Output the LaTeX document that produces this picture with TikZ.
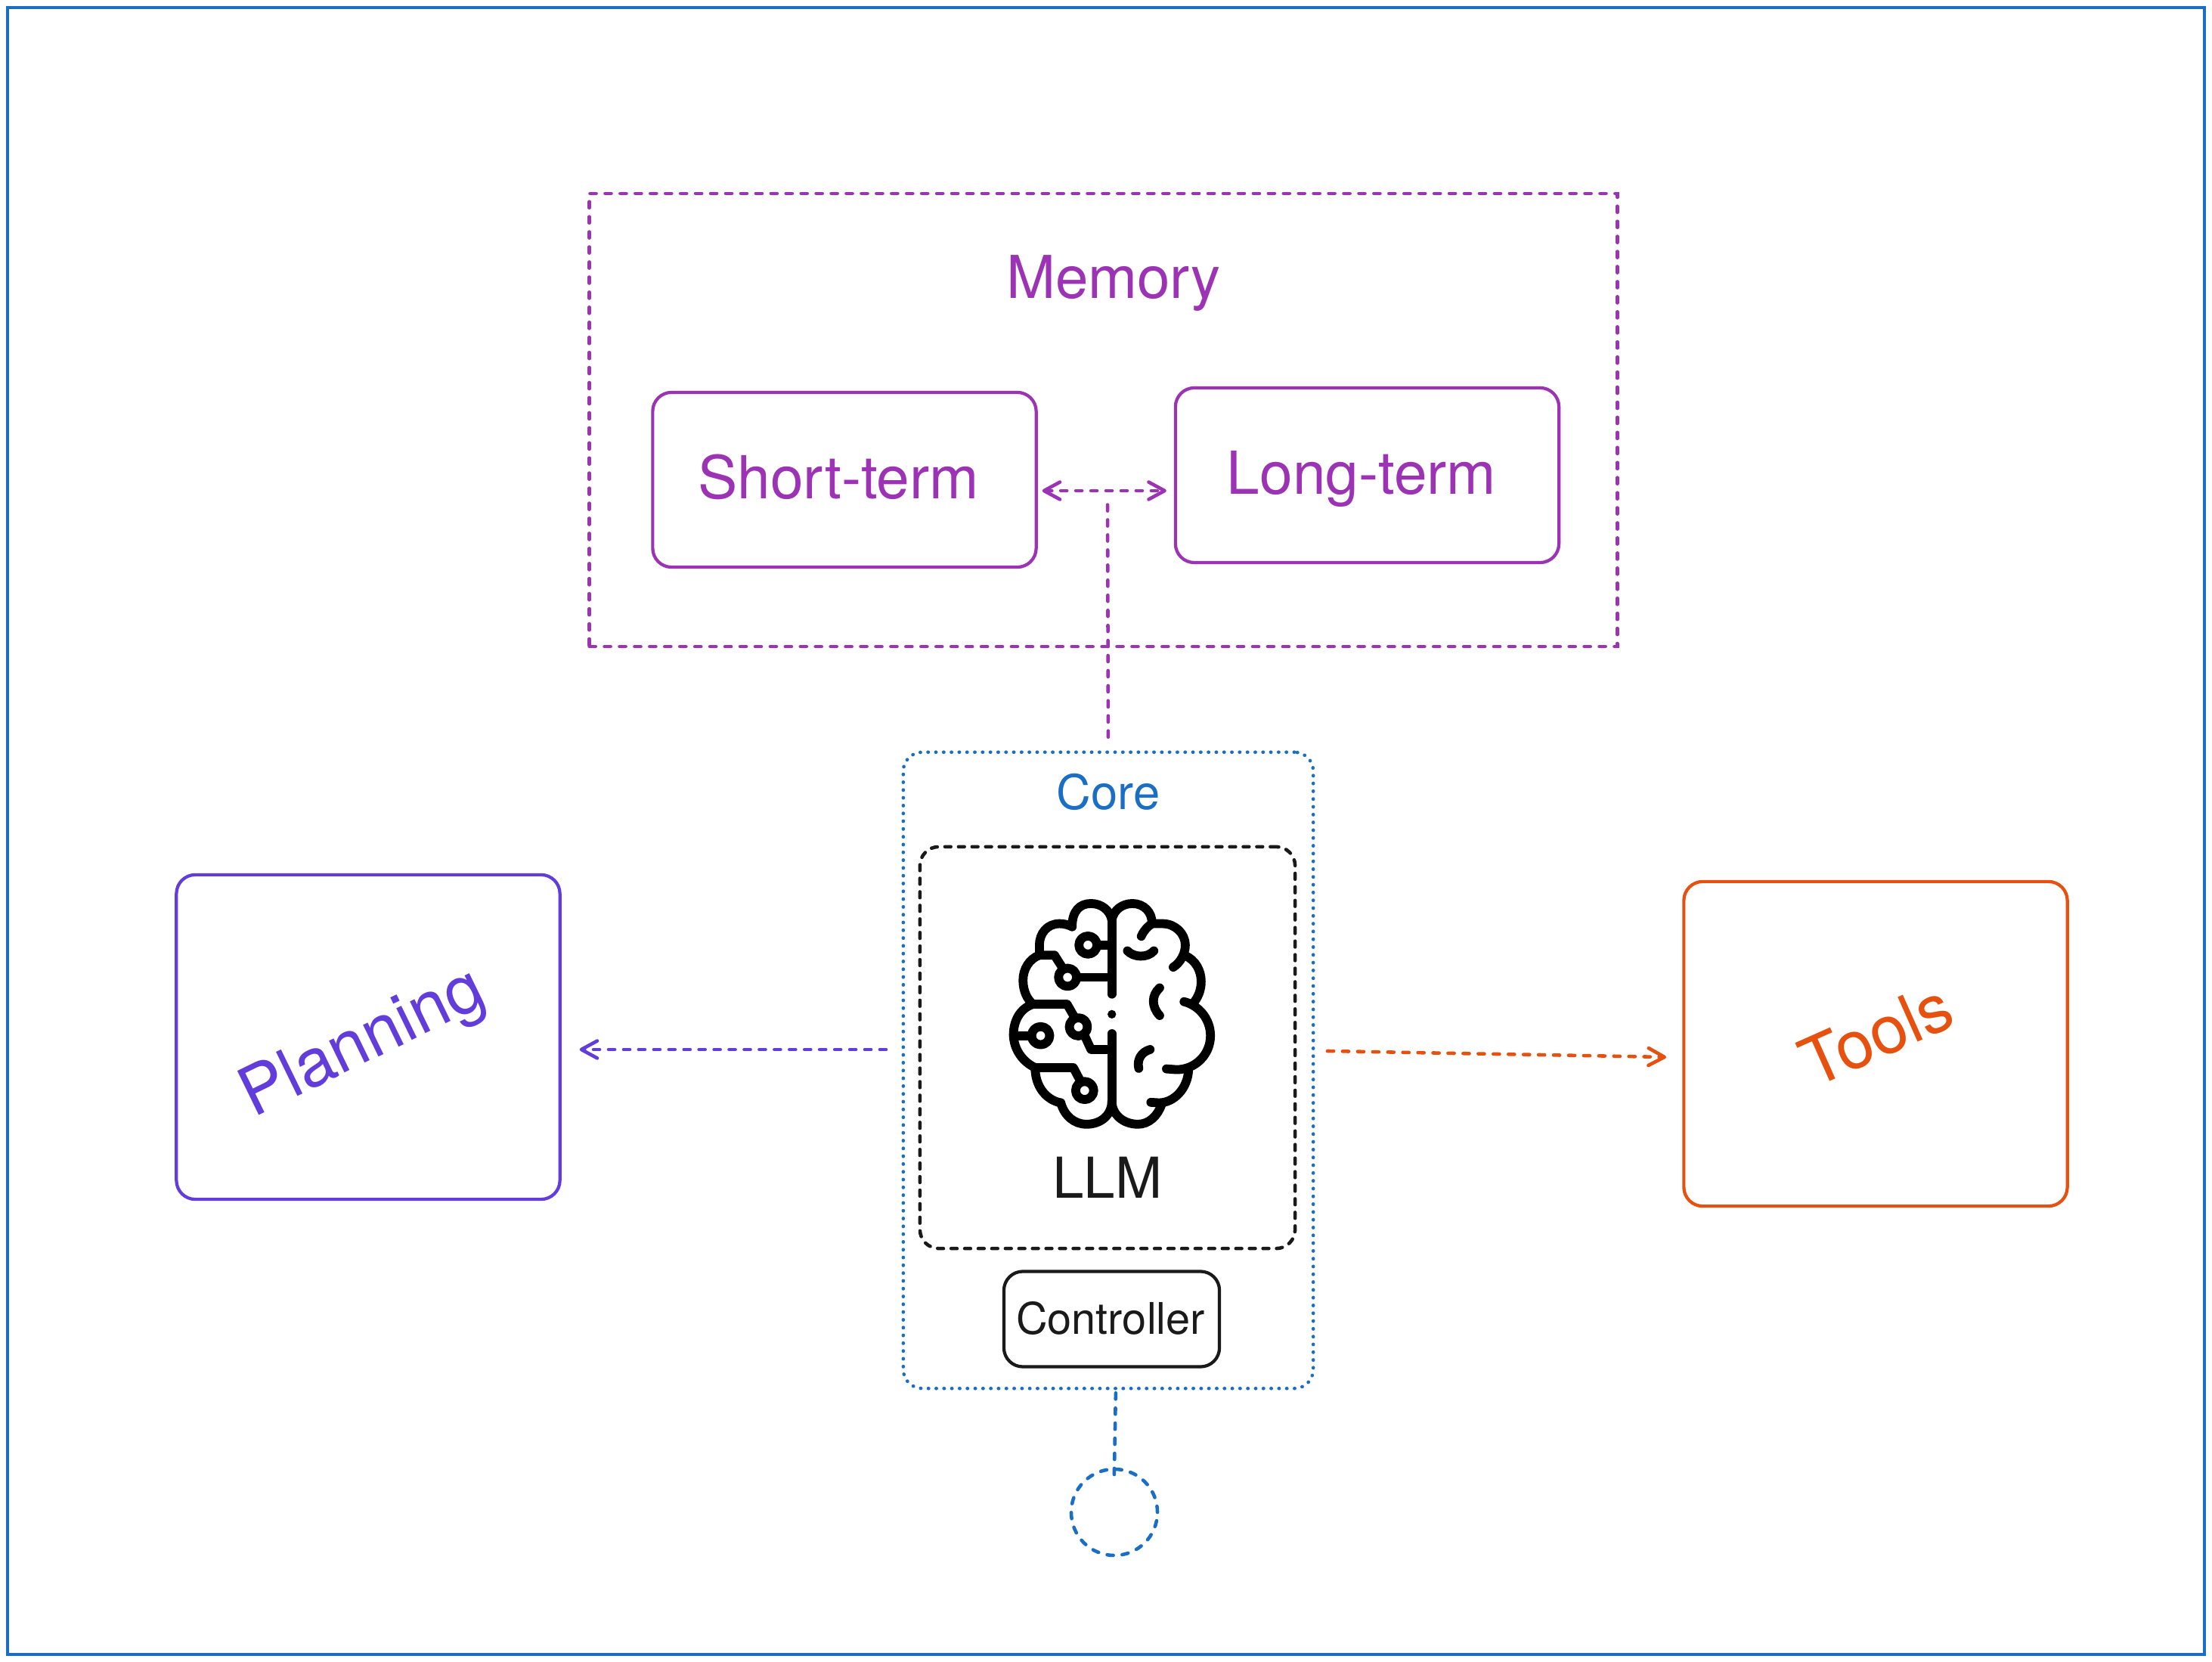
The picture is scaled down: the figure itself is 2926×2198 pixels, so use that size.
\documentclass[tikz,border=0pt]{standalone}
\usepackage{fontspec}
\setmainfont{TeX Gyre Heros}
\usetikzlibrary{arrows.meta}
\definecolor{memc}{HTML}{9C33B5}
\definecolor{corec}{HTML}{1A6FC4}
\definecolor{planc}{HTML}{633DDB}
\definecolor{toolc}{HTML}{E6510F}
\definecolor{inkc}{HTML}{1A1A1A}
\tikzset{
  box/.style={draw,rectangle,rounded corners=0.25cm,line width=1.2pt,inner sep=0pt,outer sep=0pt},
  dashline/.style={line width=1.3pt,line cap=round,dash pattern=on 2.3pt off 3.37pt},
  blackdash/.style={line width=1.3pt,line cap=round,dash pattern=on 2.2pt off 2.9pt},
  dotline/.style={line width=1.3pt,line cap=round,dash pattern=on 0.1pt off 2.83pt},
  barb/.style={-{Straight Barb[length=6pt,width=6.5pt,line width=1.3pt,round]}},
  dbarb/.style={{Straight Barb[length=6pt,width=6.5pt,line width=1.3pt,round]}-{Straight Barb[length=6pt,width=6.5pt,line width=1.3pt,round]}},
  brainline/.style={line width=3.35pt,line cap=round,line join=round,black},
}
\begin{document}
\begin{tikzpicture}[x=0.01cm,y=-0.01cm]
\useasboundingbox (0,0) rectangle (2926,2198);
\fill[white] (0,0) rectangle (2926,2198);
% frame
\node[draw=corec,line width=1.1pt,rectangle,inner sep=0pt,minimum width=29.04cm,minimum height=21.76cm] (frame) at (1463,1099) {};
% memory
\node[box,draw=memc,dashline,rounded corners=0pt,minimum width=13.59cm,minimum height=5.99cm] (memory) at (1459.5,555.5) {};
\node[text=memc,font=\fontsize{22.2}{26}\selectfont] (memlabel) at (1473,375) {Memory};
\node[box,draw=memc,minimum width=5.07cm,minimum height=2.31cm] (short) at (1117,634.5) {};
\node[text=memc,font=\fontsize{22.3}{26}\selectfont] (shortlabel) at (1109,631) {Short-term};
\node[text=memc,font=\fontsize{22.3}{26}\selectfont] (longlabel) at (1801,633) {Long-term};
\node[box,draw=memc,minimum width=5.07cm,minimum height=2.31cm] (long) at (1808.5,628.5) {};
% core
\node[box,draw=corec,dotline,minimum width=5.42cm,minimum height=8.41cm] (core) at (1466,1415.5) {};
\node[text=corec,font=\fontsize{18}{21}\selectfont] (corelabel) at (1466,1047) {Core};
\node[box,draw=inkc,blackdash,minimum width=4.96cm,minimum height=5.31cm] (llm) at (1465,1385.5) {};
\node[text=inkc,font=\fontsize{21.2}{25}\selectfont] (llmlabel) at (1465,1557) {LLM};
\node[box,draw=inkc,minimum width=2.85cm,minimum height=1.26cm] (ctrl) at (1470.5,1744.5) {};
\node[text=inkc,font=\fontsize{16.4}{20}\selectfont] (ctrllabel) at (1469,1743) {Controller};
\node[draw=corec,circle,dashline,minimum size=1.14cm,inner sep=0pt,outer sep=0pt] (user) at (1474,2000) {};
% planning, tools
\node[box,draw=planc,minimum width=5.07cm,minimum height=4.29cm] (plan) at (487,1371.5) {};
\node[text=planc,rotate=26,font=\fontsize{25.3}{30}\selectfont] (planlabel) at (481,1382) {Planning};
\node[box,draw=toolc,minimum width=5.07cm,minimum height=4.29cm] (tools) at (2481,1380.5) {};
\node[text=toolc,rotate=24,font=\fontsize{25.2}{30}\selectfont] (toollabel) at (2482,1368) {Tools};
% connectors
\coordinate (memjoin) at (1465,649);
\coordinate (planjoin) at (1172,1388);
\coordinate (tooljoinA) at (1756,1390);
\coordinate (tooljoinB) at (2204,1398);
\draw[memc,dashline,dbarb,shorten <=0.08cm,shorten >=0.12cm] (short.east |- memjoin) -- (long.west |- memjoin);
\draw[memc,dashline,shorten <=0.2cm,shorten >=0.14cm] (core.north) -- (memjoin);
\draw[planc,dashline,barb,shorten >=0.26cm] (planjoin) -- (plan.east |- planjoin);
\draw[toolc,dashline,barb] (tooljoinA) -- (tooljoinB);
\draw[corec,dashline,shorten <=0.06cm,shorten >=-0.1cm] (core.south -| user.north) ++(2,0) -- (user.north);
% brain
\begin{scope}[shift={(1300,1160)},x=0.0033333cm,y=-0.0033333cm,brainline]
 % left hemisphere
 \draw (513,170) .. controls (505,130) and (470,105) .. (430,105) .. controls (385,105) and (355,135) .. (355,197);
 \draw (355,197) .. controls (340,190) and (325,185) .. (305,185) .. controls (255,185) and (225,225) .. (225,270) -- (225,310);
 \draw (225,310) .. controls (185,325) and (160,365) .. (160,410) .. controls (160,450) and (175,485) .. (200,505);
 \draw (200,505) .. controls (150,520) and (122,570) .. (122,625) .. controls (122,685) and (160,735) .. (208,757);
 \draw (208,757) .. controls (208,830) and (250,885) .. (310,897);
 \draw (310,897) .. controls (325,950) and (365,982) .. (412,982) .. controls (470,982) and (513,945) .. (513,890);
 % circuits
 \draw (513,170) -- (513,465);
 \draw (513,622) -- (513,890);
 \fill (513,545) circle[radius=17];
 \draw (418,270) circle[radius=36];
 \draw (454,270) -- (513,270);
 \draw (225,310) -- (285,310) -- (318,362);
 \draw (337,398) circle[radius=36];
 \draw (373,398) -- (513,398);
 \draw (200,505) -- (335,505) -- (362,552);
 \draw (380,595) circle[radius=36];
 \draw (404,628) -- (430,685) -- (513,685);
 \draw (122,630) -- (194,630);
 \draw (230,630) circle[radius=36];
 \draw (208,757) -- (360,757) -- (388,810);
 \draw (405,848) circle[radius=36];
 % right hemisphere
 \draw (513,170) .. controls (520,130) and (555,105) .. (595,105) .. controls (640,105) and (675,140) .. (672,185);
 \draw (630,235) .. controls (640,212) and (655,197) .. (672,185);
 \draw (672,185) .. controls (685,185) and (700,185) .. (715,185) .. controls (765,185) and (805,225) .. (805,270) .. controls (805,305) and (785,340) .. (757,358);
 \draw (805,312) .. controls (845,330) and (868,370) .. (868,415) .. controls (868,450) and (855,480) .. (835,503);
 \draw (800,495) .. controls (860,510) and (905,565) .. (905,630) .. controls (905,705) and (845,765) .. (770,765) -- (730,762);
 \draw (818,765) .. controls (815,840) and (760,897) .. (700,897) -- (668,895);
 \draw (712,900) .. controls (695,950) and (660,982) .. (617,982) .. controls (560,982) and (513,945) .. (513,890);
 \draw (575,293) .. controls (600,320) and (655,322) .. (680,293);
 \draw (703,440) .. controls (670,470) and (670,515) .. (703,550);
 \draw (665,685) .. controls (630,695) and (612,725) .. (620,760);
\end{scope}
\end{tikzpicture}
\end{document}
